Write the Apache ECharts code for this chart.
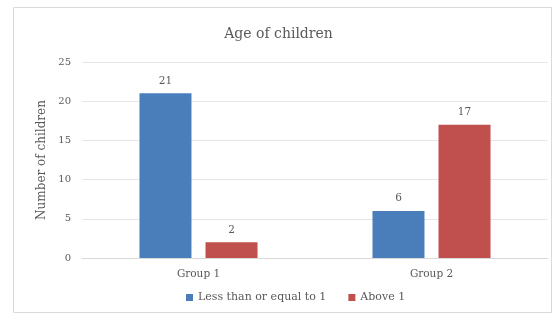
<!DOCTYPE html>
<html>
<head>
<meta charset="utf-8">
<script src="https://cdn.jsdelivr.net/npm/echarts@6/dist/echarts.min.js"></script>
<style>
html,body{margin:0;padding:0;background:#fff;}
#main{width:557px;height:323px;}
</style>
</head>
<body>
<div id="main"></div>
<script>
// 数据
var groups = ['Group 1', 'Group 2'];
var lessOrEqual1 = [21, 6];
var above1 = [2, 17];
var seriesNames = ['Less than or equal to 1', 'Above 1'];

var chart = echarts.init(document.getElementById('main'));
var txt = '#595959';
var font = '"DejaVu Serif", "Liberation Serif", serif';

var option = {
    animation: false,
    textStyle: { fontFamily: font },
    title: {
        text: 'Age of children',
        left: 'center',
        top: 22,
        textStyle: { fontFamily: font, fontSize: 14, fontWeight: 'normal', color: txt }
    },
    graphic: [{
        type: 'rect',
        shape: { x: 13.5, y: 7.5, width: 538, height: 305 },
        style: { fill: 'none', stroke: '#d9d9d9', lineWidth: 1 },
        silent: true
    }],
    legend: {
        bottom: 15,
        left: 181,
        itemWidth: 7,
        itemHeight: 7,
        itemGap: 22,
        icon: 'rect',
        textStyle: { fontFamily: font, fontSize: 11, color: txt },
        data: seriesNames
    },
    grid: { left: 82, right: 9, top: 62, bottom: 65 },
    xAxis: {
        type: 'category',
        data: groups,
        axisLine: { lineStyle: { color: '#d9d9d9' } },
        axisTick: { show: false },
        axisLabel: { fontFamily: font, fontSize: 10.5, color: txt, margin: 11 }
    },
    yAxis: {
        type: 'value',
        min: 0, max: 25, interval: 5,
        name: 'Number of children',
        nameLocation: 'middle',
        nameGap: 28,
        nameTextStyle: { fontFamily: font, fontSize: 12, color: txt },
        axisLine: { show: false },
        axisTick: { show: false },
        axisLabel: { fontFamily: font, fontSize: 10, color: txt, margin: 11 },
        splitLine: { lineStyle: { color: '#e6e6e6' } }
    },
    series: [
        {
            name: seriesNames[0],
            type: 'bar',
            data: lessOrEqual1,
            barWidth: 52,
            barGap: '27%',
            itemStyle: { color: '#4a7ebb' },
            label: { show: true, position: 'top', distance: 7, fontFamily: font, fontSize: 10.5, color: txt }
        },
        {
            name: seriesNames[1],
            type: 'bar',
            data: above1,
            barWidth: 52,
            barGap: '27%',
            itemStyle: { color: '#c0504d' },
            label: { show: true, position: 'top', distance: 7, fontFamily: font, fontSize: 10.5, color: txt }
        }
    ]
};
chart.setOption(option);
</script>
</body>
</html>
